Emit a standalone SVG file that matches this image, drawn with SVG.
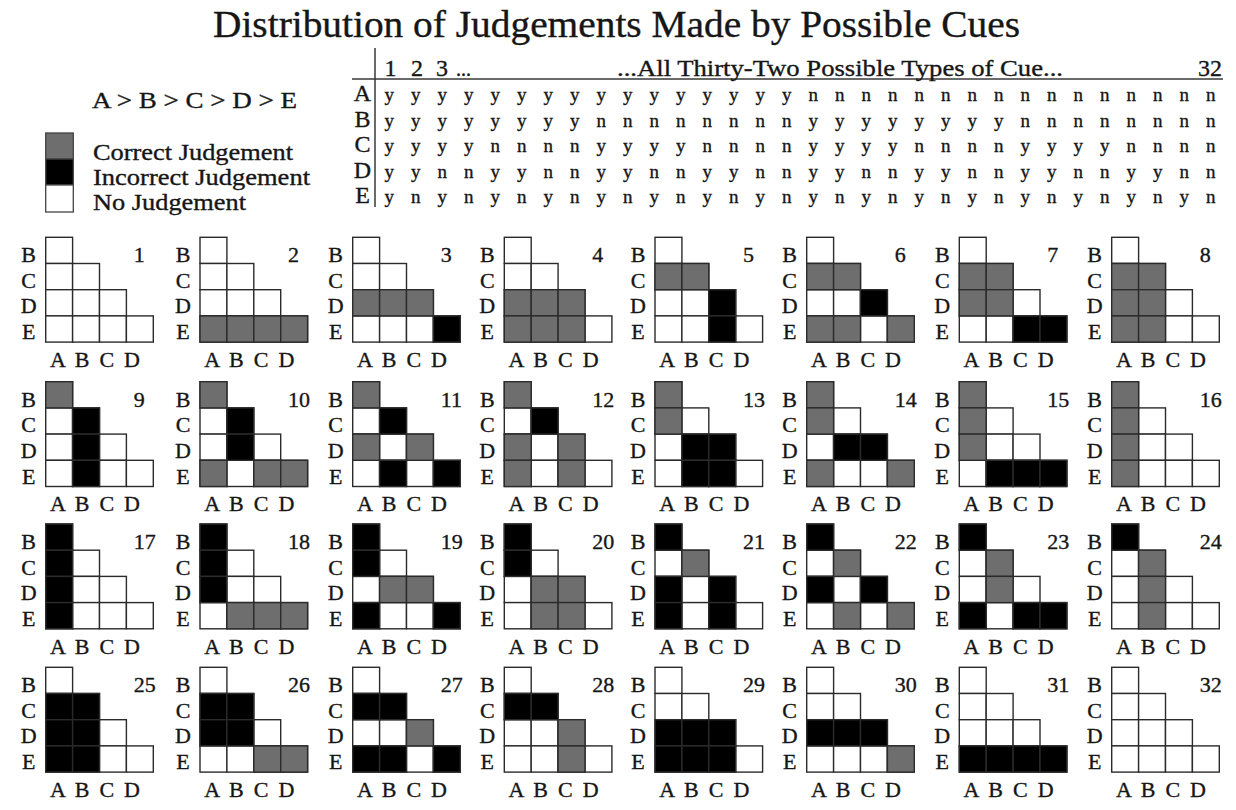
<svg xmlns="http://www.w3.org/2000/svg" xmlns:xlink="http://www.w3.org/1999/xlink" width="1236" height="810" viewBox="0 0 1236 810">
<style>
text{font-family:"Liberation Serif","Times New Roman",serif;fill:#161616;stroke:#161616;stroke-width:.35px}
.g{fill:#6e6e6e}
.k{fill:#000}
.lb{font-size:22px;text-anchor:middle}
.ab{font-size:22px}
.nm{font-size:22px}
.yn{font-size:19px;letter-spacing:6.125px}
.rl{font-size:24px;text-anchor:middle}
.hd{font-size:24px}
.lg{font-size:24px}
.ln{stroke:#3a3a3a;stroke-width:1.5;fill:none}
</style>
<defs>
<rect id="AB" x="0" y="0" width="26.9" height="26.2" stroke="#2b2b2b" stroke-width="1.4"/>
<rect id="AC" x="0" y="26.2" width="26.9" height="26.2" stroke="#2b2b2b" stroke-width="1.4"/>
<rect id="BC" x="26.9" y="26.2" width="26.9" height="26.2" stroke="#2b2b2b" stroke-width="1.4"/>
<rect id="AD" x="0" y="52.4" width="26.9" height="26.2" stroke="#2b2b2b" stroke-width="1.4"/>
<rect id="BD" x="26.9" y="52.4" width="26.9" height="26.2" stroke="#2b2b2b" stroke-width="1.4"/>
<rect id="CD" x="53.8" y="52.4" width="26.9" height="26.2" stroke="#2b2b2b" stroke-width="1.4"/>
<rect id="AE" x="0" y="78.6" width="26.9" height="26.2" stroke="#2b2b2b" stroke-width="1.4"/>
<rect id="BE" x="26.9" y="78.6" width="26.9" height="26.2" stroke="#2b2b2b" stroke-width="1.4"/>
<rect id="CE" x="53.8" y="78.6" width="26.9" height="26.2" stroke="#2b2b2b" stroke-width="1.4"/>
<rect id="DE" x="80.7" y="78.6" width="26.9" height="26.2" stroke="#2b2b2b" stroke-width="1.4"/>
<g id="f" fill="#fff"><use href="#AB"/><use href="#AC"/><use href="#BC"/><use href="#AD"/><use href="#BD"/><use href="#CD"/><use href="#AE"/><use href="#BE"/><use href="#CE"/><use href="#DE"/></g>
</defs>
<rect width="1236" height="810" fill="#fff"/>

<g id="title"><text x="213" y="36.5" font-size="37" textLength="807" lengthAdjust="spacingAndGlyphs">Distribution of Judgements Made by Possible Cues</text></g>

<g id="legend">
<text class="lg" x="92" y="108" textLength="205" lengthAdjust="spacingAndGlyphs">A &gt; B &gt; C &gt; D &gt; E</text>
<rect x="45.7" y="133" width="27.6" height="26" fill="#6e6e6e" stroke="#444" stroke-width="1.3"/>
<rect x="45.7" y="159" width="27.6" height="26" fill="#000" stroke="#444" stroke-width="1.3"/>
<rect x="45.7" y="185" width="27.6" height="27" fill="#fff" stroke="#444" stroke-width="1.3"/>
<text class="lg" x="93" y="159.5" textLength="200" lengthAdjust="spacingAndGlyphs">Correct Judgement</text>
<text class="lg" x="93" y="184.5" textLength="217" lengthAdjust="spacingAndGlyphs">Incorrect Judgement</text>
<text class="lg" x="93" y="209.5" textLength="153" lengthAdjust="spacingAndGlyphs">No Judgement</text>
</g>

<g id="cue-table">
<path class="ln" d="M375 48V207M352 79H1223"/>
<text class="hd"><tspan x="384.5" y="76">1</tspan> <tspan x="411" y="76">2</tspan> <tspan x="436" y="76">3</tspan> <tspan x="456" y="76" font-size="20">...</tspan></text>
<text class="hd" x="617" y="76" textLength="446" lengthAdjust="spacingAndGlyphs">...All Thirty-Two Possible Types of Cue...</text>
<text class="hd" x="1222" y="76" text-anchor="end">32</text>
<text class="rl" x="362.5" y="101">A</text>
<text class="rl" x="362.5" y="126.6">B</text>
<text class="rl" x="362.5" y="152.2">C</text>
<text class="rl" x="362.5" y="177.8">D</text>
<text class="rl" x="362.5" y="203.4">E</text>
<text class="yn" x="384.6" y="101">y y y y y y y y y y y y y y y y n n n n n n n n n n n n n n n n</text>
<text class="yn" x="384.6" y="126.6">y y y y y y y y n n n n n n n n y y y y y y y y n n n n n n n n</text>
<text class="yn" x="384.6" y="152.2">y y y y n n n n y y y y n n n n y y y y n n n n y y y y n n n n</text>
<text class="yn" x="384.6" y="177.8">y y n n y y n n y y n n y y n n y y n n y y n n y y n n y y n n</text>
<text class="yn" x="384.6" y="203.4">y n y n y n y n y n y n y n y n y n y n y n y n y n y n y n y n</text>
</g>

<g id="cue-1" transform="translate(45.7 237.3)"><use href="#f"/><text class="lb" x="-17" y="25">B</text><text class="lb" x="-17" y="50.5">C</text><text class="lb" x="-17" y="76">D</text><text class="lb" x="-17" y="102">E</text><text class="ab" x="4.3" y="129.5" textLength="90">A B C D</text><text class="nm" x="88" y="25">1</text></g>
<g id="cue-2" transform="translate(200 237.3)"><use href="#f"/><use class="g" href="#AE"/><use class="g" href="#BE"/><use class="g" href="#CE"/><use class="g" href="#DE"/><text class="lb" x="-17" y="25">B</text><text class="lb" x="-17" y="50.5">C</text><text class="lb" x="-17" y="76">D</text><text class="lb" x="-17" y="102">E</text><text class="ab" x="4.3" y="129.5" textLength="90">A B C D</text><text class="nm" x="88" y="25">2</text></g>
<g id="cue-3" transform="translate(352.7 237.3)"><use href="#f"/><use class="g" href="#AD"/><use class="g" href="#BD"/><use class="g" href="#CD"/><use class="k" href="#DE"/><text class="lb" x="-17" y="25">B</text><text class="lb" x="-17" y="50.5">C</text><text class="lb" x="-17" y="76">D</text><text class="lb" x="-17" y="102">E</text><text class="ab" x="4.3" y="129.5" textLength="90">A B C D</text><text class="nm" x="88" y="25">3</text></g>
<g id="cue-4" transform="translate(504.3 237.3)"><use href="#f"/><use class="g" href="#AD"/><use class="g" href="#BD"/><use class="g" href="#CD"/><use class="g" href="#AE"/><use class="g" href="#BE"/><use class="g" href="#CE"/><text class="lb" x="-17" y="25">B</text><text class="lb" x="-17" y="50.5">C</text><text class="lb" x="-17" y="76">D</text><text class="lb" x="-17" y="102">E</text><text class="ab" x="4.3" y="129.5" textLength="90">A B C D</text><text class="nm" x="88" y="25">4</text></g>
<g id="cue-5" transform="translate(655 237.3)"><use href="#f"/><use class="g" href="#AC"/><use class="g" href="#BC"/><use class="k" href="#CD"/><use class="k" href="#CE"/><text class="lb" x="-17" y="25">B</text><text class="lb" x="-17" y="50.5">C</text><text class="lb" x="-17" y="76">D</text><text class="lb" x="-17" y="102">E</text><text class="ab" x="4.3" y="129.5" textLength="90">A B C D</text><text class="nm" x="88" y="25">5</text></g>
<g id="cue-6" transform="translate(806.7 237.3)"><use href="#f"/><use class="g" href="#AC"/><use class="g" href="#BC"/><use class="g" href="#AE"/><use class="g" href="#BE"/><use class="g" href="#DE"/><use class="k" href="#CD"/><text class="lb" x="-17" y="25">B</text><text class="lb" x="-17" y="50.5">C</text><text class="lb" x="-17" y="76">D</text><text class="lb" x="-17" y="102">E</text><text class="ab" x="4.3" y="129.5" textLength="90">A B C D</text><text class="nm" x="88" y="25">6</text></g>
<g id="cue-7" transform="translate(959.3 237.3)"><use href="#f"/><use class="g" href="#AC"/><use class="g" href="#BC"/><use class="g" href="#AD"/><use class="g" href="#BD"/><use class="k" href="#CE"/><use class="k" href="#DE"/><text class="lb" x="-17" y="25">B</text><text class="lb" x="-17" y="50.5">C</text><text class="lb" x="-17" y="76">D</text><text class="lb" x="-17" y="102">E</text><text class="ab" x="4.3" y="129.5" textLength="90">A B C D</text><text class="nm" x="88" y="25">7</text></g>
<g id="cue-8" transform="translate(1111.7 237.3)"><use href="#f"/><use class="g" href="#AC"/><use class="g" href="#BC"/><use class="g" href="#AD"/><use class="g" href="#BD"/><use class="g" href="#AE"/><use class="g" href="#BE"/><text class="lb" x="-17" y="25">B</text><text class="lb" x="-17" y="50.5">C</text><text class="lb" x="-17" y="76">D</text><text class="lb" x="-17" y="102">E</text><text class="ab" x="4.3" y="129.5" textLength="90">A B C D</text><text class="nm" x="88" y="25">8</text></g>

<g id="cue-9" transform="translate(45.7 381.7)"><use href="#f"/><use class="g" href="#AB"/><use class="k" href="#BC"/><use class="k" href="#BD"/><use class="k" href="#BE"/><text class="lb" x="-17" y="25">B</text><text class="lb" x="-17" y="50.5">C</text><text class="lb" x="-17" y="76">D</text><text class="lb" x="-17" y="102">E</text><text class="ab" x="4.3" y="129.5" textLength="90">A B C D</text><text class="nm" x="88" y="25">9</text></g>
<g id="cue-10" transform="translate(200 381.7)"><use href="#f"/><use class="g" href="#AB"/><use class="g" href="#AE"/><use class="g" href="#CE"/><use class="g" href="#DE"/><use class="k" href="#BC"/><use class="k" href="#BD"/><text class="lb" x="-17" y="25">B</text><text class="lb" x="-17" y="50.5">C</text><text class="lb" x="-17" y="76">D</text><text class="lb" x="-17" y="102">E</text><text class="ab" x="4.3" y="129.5" textLength="90">A B C D</text><text class="nm" x="88" y="25">10</text></g>
<g id="cue-11" transform="translate(352.7 381.7)"><use href="#f"/><use class="g" href="#AB"/><use class="g" href="#AD"/><use class="g" href="#CD"/><use class="k" href="#BC"/><use class="k" href="#BE"/><use class="k" href="#DE"/><text class="lb" x="-17" y="25">B</text><text class="lb" x="-17" y="50.5">C</text><text class="lb" x="-17" y="76">D</text><text class="lb" x="-17" y="102">E</text><text class="ab" x="4.3" y="129.5" textLength="90">A B C D</text><text class="nm" x="88" y="25">11</text></g>
<g id="cue-12" transform="translate(504.3 381.7)"><use href="#f"/><use class="g" href="#AB"/><use class="g" href="#AD"/><use class="g" href="#CD"/><use class="g" href="#AE"/><use class="g" href="#CE"/><use class="k" href="#BC"/><text class="lb" x="-17" y="25">B</text><text class="lb" x="-17" y="50.5">C</text><text class="lb" x="-17" y="76">D</text><text class="lb" x="-17" y="102">E</text><text class="ab" x="4.3" y="129.5" textLength="90">A B C D</text><text class="nm" x="88" y="25">12</text></g>
<g id="cue-13" transform="translate(655 381.7)"><use href="#f"/><use class="g" href="#AB"/><use class="g" href="#AC"/><use class="k" href="#BD"/><use class="k" href="#CD"/><use class="k" href="#BE"/><use class="k" href="#CE"/><text class="lb" x="-17" y="25">B</text><text class="lb" x="-17" y="50.5">C</text><text class="lb" x="-17" y="76">D</text><text class="lb" x="-17" y="102">E</text><text class="ab" x="4.3" y="129.5" textLength="90">A B C D</text><text class="nm" x="88" y="25">13</text></g>
<g id="cue-14" transform="translate(806.7 381.7)"><use href="#f"/><use class="g" href="#AB"/><use class="g" href="#AC"/><use class="g" href="#AE"/><use class="g" href="#DE"/><use class="k" href="#BD"/><use class="k" href="#CD"/><text class="lb" x="-17" y="25">B</text><text class="lb" x="-17" y="50.5">C</text><text class="lb" x="-17" y="76">D</text><text class="lb" x="-17" y="102">E</text><text class="ab" x="4.3" y="129.5" textLength="90">A B C D</text><text class="nm" x="88" y="25">14</text></g>
<g id="cue-15" transform="translate(959.3 381.7)"><use href="#f"/><use class="g" href="#AB"/><use class="g" href="#AC"/><use class="g" href="#AD"/><use class="k" href="#BE"/><use class="k" href="#CE"/><use class="k" href="#DE"/><text class="lb" x="-17" y="25">B</text><text class="lb" x="-17" y="50.5">C</text><text class="lb" x="-17" y="76">D</text><text class="lb" x="-17" y="102">E</text><text class="ab" x="4.3" y="129.5" textLength="90">A B C D</text><text class="nm" x="88" y="25">15</text></g>
<g id="cue-16" transform="translate(1111.7 381.7)"><use href="#f"/><use class="g" href="#AB"/><use class="g" href="#AC"/><use class="g" href="#AD"/><use class="g" href="#AE"/><text class="lb" x="-17" y="25">B</text><text class="lb" x="-17" y="50.5">C</text><text class="lb" x="-17" y="76">D</text><text class="lb" x="-17" y="102">E</text><text class="ab" x="4.3" y="129.5" textLength="90">A B C D</text><text class="nm" x="88" y="25">16</text></g>

<g id="cue-17" transform="translate(45.7 524)"><use href="#f"/><use class="k" href="#AB"/><use class="k" href="#AC"/><use class="k" href="#AD"/><use class="k" href="#AE"/><text class="lb" x="-17" y="25">B</text><text class="lb" x="-17" y="50.5">C</text><text class="lb" x="-17" y="76">D</text><text class="lb" x="-17" y="102">E</text><text class="ab" x="4.3" y="129.5" textLength="90">A B C D</text><text class="nm" x="88" y="25">17</text></g>
<g id="cue-18" transform="translate(200 524)"><use href="#f"/><use class="k" href="#AB"/><use class="k" href="#AC"/><use class="k" href="#AD"/><use class="g" href="#BE"/><use class="g" href="#CE"/><use class="g" href="#DE"/><text class="lb" x="-17" y="25">B</text><text class="lb" x="-17" y="50.5">C</text><text class="lb" x="-17" y="76">D</text><text class="lb" x="-17" y="102">E</text><text class="ab" x="4.3" y="129.5" textLength="90">A B C D</text><text class="nm" x="88" y="25">18</text></g>
<g id="cue-19" transform="translate(352.7 524)"><use href="#f"/><use class="k" href="#AB"/><use class="k" href="#AC"/><use class="k" href="#AE"/><use class="k" href="#DE"/><use class="g" href="#BD"/><use class="g" href="#CD"/><text class="lb" x="-17" y="25">B</text><text class="lb" x="-17" y="50.5">C</text><text class="lb" x="-17" y="76">D</text><text class="lb" x="-17" y="102">E</text><text class="ab" x="4.3" y="129.5" textLength="90">A B C D</text><text class="nm" x="88" y="25">19</text></g>
<g id="cue-20" transform="translate(504.3 524)"><use href="#f"/><use class="k" href="#AB"/><use class="k" href="#AC"/><use class="g" href="#BD"/><use class="g" href="#CD"/><use class="g" href="#BE"/><use class="g" href="#CE"/><text class="lb" x="-17" y="25">B</text><text class="lb" x="-17" y="50.5">C</text><text class="lb" x="-17" y="76">D</text><text class="lb" x="-17" y="102">E</text><text class="ab" x="4.3" y="129.5" textLength="90">A B C D</text><text class="nm" x="88" y="25">20</text></g>
<g id="cue-21" transform="translate(655 524)"><use href="#f"/><use class="k" href="#AB"/><use class="k" href="#AD"/><use class="k" href="#AE"/><use class="k" href="#CD"/><use class="k" href="#CE"/><use class="g" href="#BC"/><text class="lb" x="-17" y="25">B</text><text class="lb" x="-17" y="50.5">C</text><text class="lb" x="-17" y="76">D</text><text class="lb" x="-17" y="102">E</text><text class="ab" x="4.3" y="129.5" textLength="90">A B C D</text><text class="nm" x="88" y="25">21</text></g>
<g id="cue-22" transform="translate(806.7 524)"><use href="#f"/><use class="k" href="#AB"/><use class="k" href="#AD"/><use class="k" href="#CD"/><use class="g" href="#BC"/><use class="g" href="#BE"/><use class="g" href="#DE"/><text class="lb" x="-17" y="25">B</text><text class="lb" x="-17" y="50.5">C</text><text class="lb" x="-17" y="76">D</text><text class="lb" x="-17" y="102">E</text><text class="ab" x="4.3" y="129.5" textLength="90">A B C D</text><text class="nm" x="88" y="25">22</text></g>
<g id="cue-23" transform="translate(959.3 524)"><use href="#f"/><use class="k" href="#AB"/><use class="k" href="#AE"/><use class="k" href="#CE"/><use class="k" href="#DE"/><use class="g" href="#BC"/><use class="g" href="#BD"/><text class="lb" x="-17" y="25">B</text><text class="lb" x="-17" y="50.5">C</text><text class="lb" x="-17" y="76">D</text><text class="lb" x="-17" y="102">E</text><text class="ab" x="4.3" y="129.5" textLength="90">A B C D</text><text class="nm" x="88" y="25">23</text></g>
<g id="cue-24" transform="translate(1111.7 524)"><use href="#f"/><use class="k" href="#AB"/><use class="g" href="#BC"/><use class="g" href="#BD"/><use class="g" href="#BE"/><text class="lb" x="-17" y="25">B</text><text class="lb" x="-17" y="50.5">C</text><text class="lb" x="-17" y="76">D</text><text class="lb" x="-17" y="102">E</text><text class="ab" x="4.3" y="129.5" textLength="90">A B C D</text><text class="nm" x="88" y="25">24</text></g>

<g id="cue-25" transform="translate(45.7 667.3)"><use href="#f"/><use class="k" href="#AC"/><use class="k" href="#AD"/><use class="k" href="#AE"/><use class="k" href="#BC"/><use class="k" href="#BD"/><use class="k" href="#BE"/><text class="lb" x="-17" y="25">B</text><text class="lb" x="-17" y="50.5">C</text><text class="lb" x="-17" y="76">D</text><text class="lb" x="-17" y="102">E</text><text class="ab" x="4.3" y="129.5" textLength="90">A B C D</text><text class="nm" x="88" y="25">25</text></g>
<g id="cue-26" transform="translate(200 667.3)"><use href="#f"/><use class="k" href="#AC"/><use class="k" href="#AD"/><use class="k" href="#BC"/><use class="k" href="#BD"/><use class="g" href="#CE"/><use class="g" href="#DE"/><text class="lb" x="-17" y="25">B</text><text class="lb" x="-17" y="50.5">C</text><text class="lb" x="-17" y="76">D</text><text class="lb" x="-17" y="102">E</text><text class="ab" x="4.3" y="129.5" textLength="90">A B C D</text><text class="nm" x="88" y="25">26</text></g>
<g id="cue-27" transform="translate(352.7 667.3)"><use href="#f"/><use class="k" href="#AC"/><use class="k" href="#BC"/><use class="k" href="#AE"/><use class="k" href="#BE"/><use class="k" href="#DE"/><use class="g" href="#CD"/><text class="lb" x="-17" y="25">B</text><text class="lb" x="-17" y="50.5">C</text><text class="lb" x="-17" y="76">D</text><text class="lb" x="-17" y="102">E</text><text class="ab" x="4.3" y="129.5" textLength="90">A B C D</text><text class="nm" x="88" y="25">27</text></g>
<g id="cue-28" transform="translate(504.3 667.3)"><use href="#f"/><use class="k" href="#AC"/><use class="k" href="#BC"/><use class="g" href="#CD"/><use class="g" href="#CE"/><text class="lb" x="-17" y="25">B</text><text class="lb" x="-17" y="50.5">C</text><text class="lb" x="-17" y="76">D</text><text class="lb" x="-17" y="102">E</text><text class="ab" x="4.3" y="129.5" textLength="90">A B C D</text><text class="nm" x="88" y="25">28</text></g>
<g id="cue-29" transform="translate(655 667.3)"><use href="#f"/><use class="k" href="#AD"/><use class="k" href="#BD"/><use class="k" href="#CD"/><use class="k" href="#AE"/><use class="k" href="#BE"/><use class="k" href="#CE"/><text class="lb" x="-17" y="25">B</text><text class="lb" x="-17" y="50.5">C</text><text class="lb" x="-17" y="76">D</text><text class="lb" x="-17" y="102">E</text><text class="ab" x="4.3" y="129.5" textLength="90">A B C D</text><text class="nm" x="88" y="25">29</text></g>
<g id="cue-30" transform="translate(806.7 667.3)"><use href="#f"/><use class="k" href="#AD"/><use class="k" href="#BD"/><use class="k" href="#CD"/><use class="g" href="#DE"/><text class="lb" x="-17" y="25">B</text><text class="lb" x="-17" y="50.5">C</text><text class="lb" x="-17" y="76">D</text><text class="lb" x="-17" y="102">E</text><text class="ab" x="4.3" y="129.5" textLength="90">A B C D</text><text class="nm" x="88" y="25">30</text></g>
<g id="cue-31" transform="translate(959.3 667.3)"><use href="#f"/><use class="k" href="#AE"/><use class="k" href="#BE"/><use class="k" href="#CE"/><use class="k" href="#DE"/><text class="lb" x="-17" y="25">B</text><text class="lb" x="-17" y="50.5">C</text><text class="lb" x="-17" y="76">D</text><text class="lb" x="-17" y="102">E</text><text class="ab" x="4.3" y="129.5" textLength="90">A B C D</text><text class="nm" x="88" y="25">31</text></g>
<g id="cue-32" transform="translate(1111.7 667.3)"><use href="#f"/><text class="lb" x="-17" y="25">B</text><text class="lb" x="-17" y="50.5">C</text><text class="lb" x="-17" y="76">D</text><text class="lb" x="-17" y="102">E</text><text class="ab" x="4.3" y="129.5" textLength="90">A B C D</text><text class="nm" x="88" y="25">32</text></g>
</svg>
